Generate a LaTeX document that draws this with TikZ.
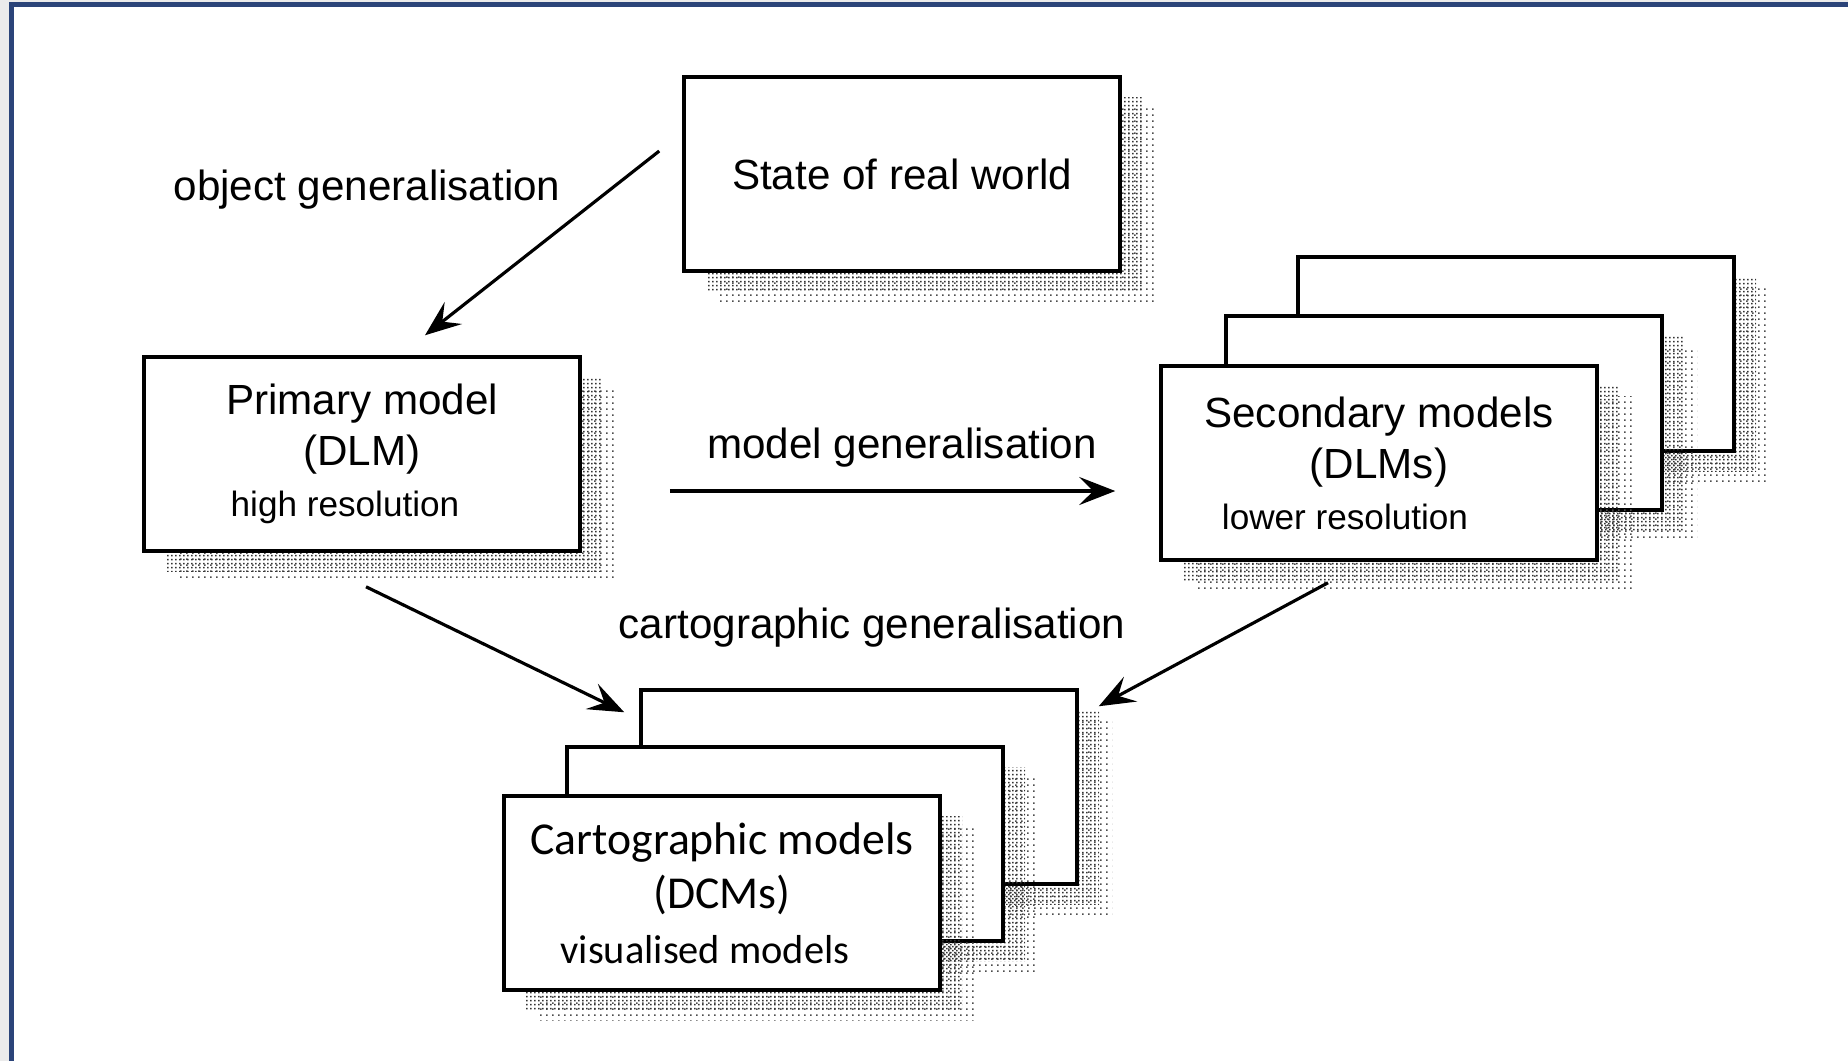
\documentclass[tikz,border=0pt]{standalone}
\usepackage{fontspec}
\setmainfont{Liberation Sans}
\newfontfamily\cartfont{Carlito}
\usetikzlibrary{arrows.meta,positioning,shadows,patterns.meta}
\definecolor{framecol}{HTML}{2B4479}

% stippled shadows
\tikzdeclarepattern{name=stipplesparse, type=uncolored,
  tile size={(1.6pt,1.6pt)}, bounding box={(0pt,0pt) and (1.6pt,1.6pt)},
  code={\fill (0pt,0pt) rectangle (0.5pt,0.5pt);}}
\tikzdeclarepattern{name=stippledense, type=uncolored,
  tile size={(1.1pt,1.1pt)}, bounding box={(0pt,0pt) and (1.1pt,1.1pt)},
  code={\fill (0.3pt,0.5pt) rectangle (0.75pt,0.95pt);}}

\begin{document}
\begin{tikzpicture}
        [box/.style = {draw, line width=1pt, fill=white,
        minimum width=4.36cm, minimum height=1.94cm,
        inner sep=0pt, align=center,
        font=\fontsize{12}{14.5}\selectfont,
        drop shadow={shadow xshift=3.5mm, shadow yshift=-3mm, pattern=stipplesparse, pattern color=black!70, opacity=1},
        drop shadow={shadow xshift=2.2mm, shadow yshift=-2mm, pattern=stippledense, pattern color=black!80, opacity=1}},
        lbl/.style = {font=\fontsize{12}{14}\selectfont},
        arr/.style = {line width=0.9pt, -{Stealth[length=3.6mm,width=2.8mm,inset=1.4mm]}}]

        \useasboundingbox (0,0) rectangle (18.48,-10.61);

        % Frame
        \fill[black!8] (0,0) rectangle (0.09,-10.61);
        \fill[black!8] (0,0) rectangle (18.48,-0.02);
        \fill[framecol] (0.09,-0.02) rectangle (18.48,-0.07);
        \fill[framecol] (0.09,-0.02) rectangle (0.14,-10.61);

        % Real world
        \node[box] (world) at (9.02,-1.74) {State of real world};

        % Primary model
        \node[box] (prim) at (3.62,-4.54)
            {Primary model\\(DLM)\\{\fontsize{10}{12}\selectfont high resolution\hspace*{3.4mm}}};

        % Secondary models
        \node[box] (sec3) at (15.16,-3.54) {};
        \node[box] (sec2) at (14.44,-4.13) {};
        \node[box] (sec1) at (13.79,-4.63)
            {Secondary models\\(DLMs)\\{\fontsize{10}{12}\selectfont lower resolution\hspace*{6.8mm}}};

        % Cartographic models
        \node[box] (cart3) at (8.59,-7.87) {};
        \node[box] (cart2) at (7.85,-8.44) {};
        \node[box,font=\cartfont\fontsize{13}{15.5}\selectfont] (cart1) at (7.22,-8.93)
            {Cartographic models\\(DCMs)\hspace*{5.6mm}\\{\fontsize{11.5}{13}\selectfont visualised models\hspace*{3.4mm}}};

        % Labels
        \node[lbl] (objlbl) at (3.67,-1.9) {object generalisation};
        \node[lbl] (modlbl) at (9.02,-4.48) {model generalisation};
        \node[lbl] (cartlbl) at (8.72,-6.28) {cartographic generalisation};

        % Arrows
        \draw[arr] ([xshift=-2.3mm,yshift=2.3mm]world.west) -- ([xshift=6.3mm,yshift=2mm]prim.north);
        \draw[arr] ([xshift=8.8mm,yshift=-3.7mm]prim.east) -- ([xshift=-4.4mm,yshift=-3.7mm]prim.east -| sec1.west);
        \draw[arr] ([xshift=0.4mm,yshift=-3.4mm]prim.south) -- ([xshift=-1.5mm,yshift=-2.4mm]cart3.north west);
        \draw[arr] ([xshift=-5.1mm,yshift=-2.1mm]sec1.south) -- ([xshift=2mm,yshift=-1.8mm]cart3.north east);
    \end{tikzpicture}
\end{document}
